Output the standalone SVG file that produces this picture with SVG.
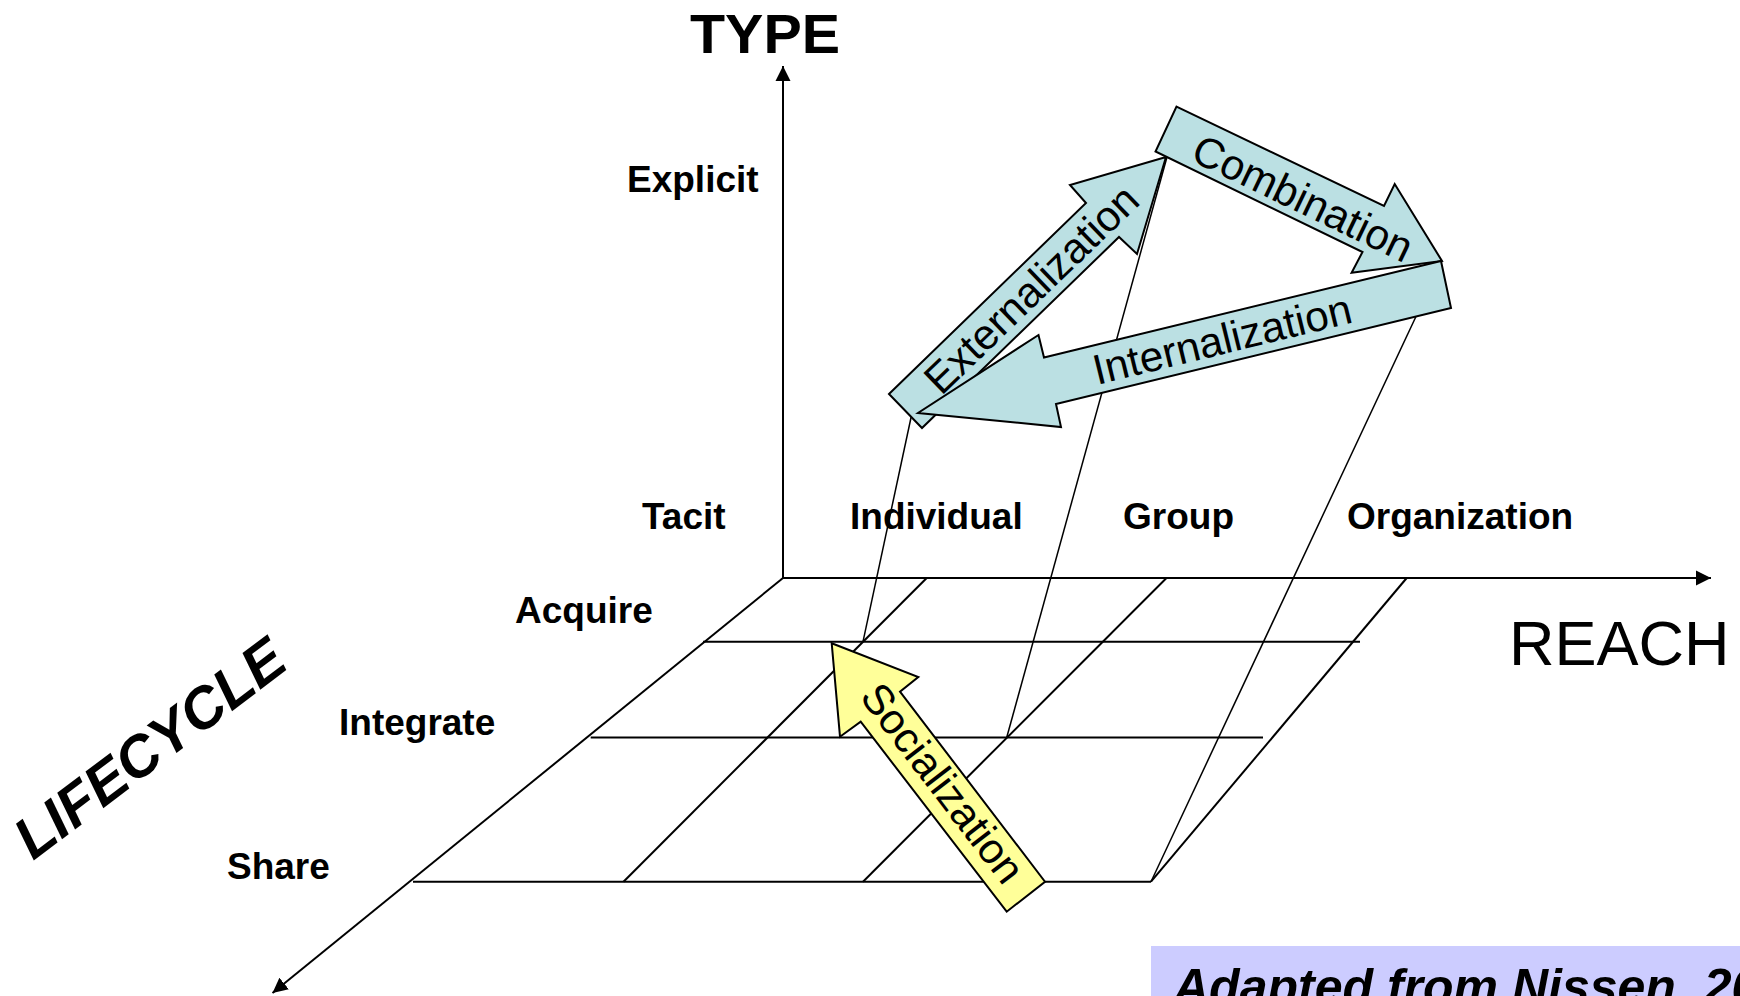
<svg xmlns="http://www.w3.org/2000/svg" width="1740" height="996" viewBox="0 0 1740 996">
<defs>
<style>
.lbl{font-family:"Liberation Sans",Arial,sans-serif;font-weight:bold;font-size:37px;fill:#000}
.at{font-family:"Liberation Sans",Arial,sans-serif;font-size:42.5px;fill:#000;text-anchor:middle}
.grid{stroke:#000;stroke-width:2;fill:none}
.proj{stroke:#000;stroke-width:1.5;fill:none}
.ax{stroke:#000;stroke-width:2;fill:none}
.cy{fill:#bbe0e3;stroke:#000;stroke-width:2;stroke-linejoin:miter}
.ye{fill:#ffff99;stroke:#000;stroke-width:2;stroke-linejoin:miter}
</style>
<marker id="ah" markerWidth="16" markerHeight="16" refX="15" refY="8" orient="auto" markerUnits="userSpaceOnUse">
<path d="M0,0.5 L15,8 L0,15.5 z" fill="#000"/>
</marker>
</defs>
<rect width="1740" height="996" fill="#fff"/>

<g id="axis-labels">
<text x="690" y="53" font-family="Liberation Sans, Arial, sans-serif" font-weight="bold" font-size="55" textLength="150" lengthAdjust="spacingAndGlyphs">TYPE</text>
<text x="1509" y="665" font-family="Liberation Sans, Arial, sans-serif" font-size="63">REACH</text>
<text transform="translate(33,861) rotate(-37)" font-family="Liberation Sans, Arial, sans-serif" font-weight="bold" font-style="italic" font-size="58">LIFECYCLE</text>
</g>

<g id="type-labels">
<text class="lbl" x="627" y="192">Explicit</text>
<text class="lbl" x="642" y="529">Tacit</text>
</g>
<g id="reach-labels">
<text class="lbl" x="850" y="529">Individual</text>
<text class="lbl" x="1123" y="529">Group</text>
<text class="lbl" x="1347" y="529">Organization</text>
</g>
<g id="lifecycle-labels">
<text class="lbl" x="515" y="623">Acquire</text>
<text class="lbl" x="339" y="735">Integrate</text>
<text class="lbl" x="227" y="879">Share</text>
</g>

<g id="connectors">
<line class="ax" x1="783" y1="578" x2="783" y2="66" marker-end="url(#ah)"/>
<line class="ax" x1="783" y1="578" x2="1711" y2="578" marker-end="url(#ah)"/>
<line class="ax" x1="783" y1="578" x2="272.5" y2="993" marker-end="url(#ah)"/>
<line class="grid" x1="703" y1="641.7" x2="1360" y2="641.7"/>
<line class="grid" x1="590.7" y1="737.5" x2="1263" y2="737.5"/>
<line class="grid" x1="413" y1="881.7" x2="1151" y2="881.7"/>
<line class="grid" x1="926.7" y1="578" x2="623.5" y2="881.7"/>
<line class="grid" x1="1166.5" y1="578" x2="863" y2="881.7"/>
<line class="grid" x1="1406.7" y1="578" x2="1151" y2="881.7"/>
<line class="proj" x1="912" y1="413" x2="863" y2="641.7"/>
<line class="proj" x1="1167" y1="157" x2="1006.7" y2="737.5"/>
<line class="proj" x1="1442" y1="261" x2="1151" y2="881.7"/>
</g>

<g id="externalization">
<polygon class="cy" points="889,394 1086,203 1070,185 1166,157 1137,254 1119,237 922,428"/>
<text class="at" transform="translate(1031,289) rotate(-44)" x="0" y="15">Externalization</text>
</g>
<g id="combination">
<polygon class="cy" points="1176.5,106.6 1384,206 1394.7,184 1442,261 1351.6,272.7 1362.5,252 1155.5,151.5"/>
<text class="at" transform="translate(1303,198) rotate(25.7)" x="0" y="15">Combination</text>
</g>
<g id="internalization">
<polygon class="cy" points="1441,261 1451,308 1056,404 1061,427 918,413 1038.5,335 1044,357.5"/>
<text class="at" transform="translate(1222,339) rotate(-13.7)" x="0" y="15">Internalization</text>
</g>
<g id="socialization">
<polygon class="ye" points="831.7,643.3 918.3,677 900,691.7 1045,881.7 1006.7,911.7 860.7,721.7 840,736.7"/>
<text class="at" transform="translate(943,783) rotate(52.6)" x="0" y="15">Socialization</text>
</g>

<g id="source">
<rect x="1151" y="946" width="589" height="50" fill="#ccccff"/>
<text x="1173" y="1004" font-family="Liberation Sans, Arial, sans-serif" font-weight="bold" font-style="italic" font-size="50">Adapted from Nissen, 200</text>
</g>
</svg>
